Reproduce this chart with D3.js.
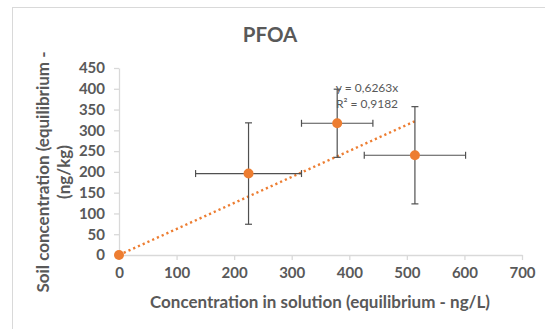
<!DOCTYPE html>
<html><head><meta charset="utf-8">
<script src="https://cdn.jsdelivr.net/npm/d3@7"></script>
<style>body{margin:0;background:#fff}svg{display:block}</style>
</head><body>
<svg id="c" width="545" height="329"></svg>
<script>
const xs = [0, 225, 379, 514];
const ys = [0, 196, 317, 240];
const xErr = [0, 92, 62, 88];
const yErr = [0, 122, 82, 117];
const xTicks = [0,100,200,300,400,500,600,700];
const yTicks = [0,50,100,150,200,250,300,350,400,450];
const slope = 0.6263;
const r2 = "0,9182";
const title = "PFOA";
const xTitle = "Concentration in solution (equilibrium - ng/L)";
const yTitle = ["Soil concentration (equilibrium -", "(ng/kg)"];

const svg = d3.select("#c");
const font = "Lato, 'Open Sans', sans-serif";
const grey = "#595959";
const axisC = "#d9d9d9";

svg.append("rect").attr("x",12.5).attr("y",7.5).attr("width",560).attr("height",340)
  .attr("fill","#fff").attr("stroke",axisC);

const x = d3.scaleLinear().domain([0,700]).range([119,522]);
const y = d3.scaleLinear().domain([0,450]).range([255,68]);

const xa = svg.append("g").attr("transform","translate(0,255)")
  .call(d3.axisBottom(x).tickValues(xTicks).tickSize(5).tickSizeOuter(0).tickPadding(7));
const ya = svg.append("g").attr("transform","translate(119,0)")
  .call(d3.axisLeft(y).tickValues(yTicks).tickSize(5).tickSizeOuter(0).tickPadding(9));
[xa,ya].forEach(a=>{
  a.select(".domain").attr("stroke",axisC).attr("stroke-width",1.3);
  a.selectAll(".tick line").attr("stroke",axisC).attr("stroke-width",1.3);
  a.selectAll("text").attr("fill",grey).attr("font-family",font)
   .attr("font-weight","bold").attr("font-size",15);
});

const xmax = d3.max(xs);
svg.append("line").attr("x1",x(0)).attr("y1",y(0)).attr("x2",x(xmax)).attr("y2",y(slope*xmax))
  .attr("stroke","#ed7d31").attr("stroke-width",2.4).attr("stroke-dasharray","2.2 3");

const eb = svg.append("g").attr("stroke","#505050").attr("stroke-width",1.2).attr("fill","none");
xs.forEach((xv,i)=>{
  if(!xErr[i] && !yErr[i]) return;
  const cx=x(xv), cy=y(ys[i]);
  const l=x(xv-xErr[i]), r=x(xv+xErr[i]), t=y(ys[i]+yErr[i]), b=y(ys[i]-yErr[i]);
  eb.append("line").attr("x1",l).attr("x2",r).attr("y1",cy).attr("y2",cy);
  eb.append("line").attr("x1",l).attr("x2",l).attr("y1",cy-3.5).attr("y2",cy+3.5);
  eb.append("line").attr("x1",r).attr("x2",r).attr("y1",cy-3.5).attr("y2",cy+3.5);
  eb.append("line").attr("x1",cx).attr("x2",cx).attr("y1",t).attr("y2",b);
  eb.append("line").attr("x1",cx-3.5).attr("x2",cx+3.5).attr("y1",t).attr("y2",t);
  eb.append("line").attr("x1",cx-3.5).attr("x2",cx+3.5).attr("y1",b).attr("y2",b);
});

svg.append("g").selectAll("circle").data(xs).join("circle")
  .attr("cx",(d)=>x(d)).attr("cy",(d,i)=>y(ys[i])).attr("r",5)
  .attr("fill","#ed7d31");

const tl = svg.append("g").attr("fill",grey).attr("font-family",font).attr("font-size",12);
tl.append("text").attr("x",367).attr("y",92).attr("text-anchor","middle").text("y = " + String(slope).replace(".",",") + "x");
tl.append("text").attr("x",367).attr("y",108).attr("text-anchor","middle").text("R² = " + r2);

svg.append("text").attr("x",270).attr("y",42).attr("text-anchor","middle")
  .attr("fill",grey).attr("font-family",font).attr("font-weight","bold").attr("font-size",20.5).text(title);
svg.append("text").attr("x",320).attr("y",308).attr("text-anchor","middle")
  .attr("fill",grey).attr("font-family",font).attr("font-weight","bold").attr("font-size",17).text(xTitle);
const yt = svg.append("text").attr("transform","translate(0,172) rotate(-90)")
  .attr("text-anchor","middle").attr("fill",grey).attr("font-family",font)
  .attr("font-weight","bold").attr("font-size",17);
yt.append("tspan").attr("x",0).attr("y",49).text(yTitle[0]);
yt.append("tspan").attr("x",0).attr("y",70).text(yTitle[1]);
</script>
</body></html>
